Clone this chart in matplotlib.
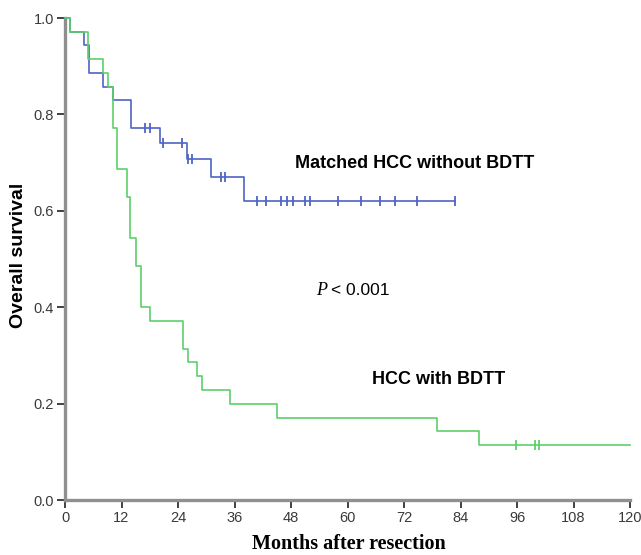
import numpy as np
import matplotlib
matplotlib.use("Agg")
import matplotlib.pyplot as plt

plt.rcParams['font.family'] = ['Liberation Sans', 'DejaVu Sans']

# Matched HCC without BDTT (Kaplan-Meier steps)
blue_t = [0, 1.1, 4.0, 5.0, 8.0, 10.2, 14.0, 20.1, 25.9, 31.0, 38.1]
blue_s = [1.0, 0.971, 0.943, 0.886, 0.857, 0.829, 0.771, 0.741, 0.707, 0.670, 0.621]
blue_end = 82.9
blue_cens = [17.0, 18.0, 20.9, 24.8, 26.2, 26.9, 33.1, 34.0, 40.7, 42.6, 45.9, 47.2,
             48.5, 50.9, 52.0, 57.9, 62.8, 66.9, 70.1, 74.8, 82.8]

# HCC with BDTT
green_t = [0, 1.1, 4.8, 8.0, 9.1, 10.2, 11.0, 13.1, 13.9, 15.0, 16.1, 18.05, 25.0,
           26.1, 28.1, 29.0, 35.0, 45.0, 79.0, 88.0]
green_s = [1.0, 0.971, 0.914, 0.886, 0.857, 0.771, 0.686, 0.629, 0.543, 0.486, 0.4,
           0.371, 0.314, 0.286, 0.257, 0.229, 0.2, 0.171, 0.143, 0.114]
green_end = 120
green_cens = [95.8, 99.9, 100.6]

xticks = [0, 12, 24, 36, 48, 60, 72, 84, 96, 108, 120]
yticks = [0.0, 0.2, 0.4, 0.6, 0.8, 1.0]

blue_col = '#5064c4'
green_col = '#5ccf6a'


def km(ax, t, s, end, cens, col):
    tt = list(t) + [end]
    ss = list(s) + [s[-1]]
    ax.step(tt, ss, where='post', color=col, lw=1.2, clip_on=False, zorder=3)
    idx = np.searchsorted(t, cens, side='right') - 1
    cy = np.array(s)[idx]
    ax.plot(cens, cy, ls='none', marker='|', ms=6.5, mew=1.3, color=col,
            clip_on=False, zorder=4)


fig = plt.figure(figsize=(6.41, 5.55), dpi=100)
ax = fig.add_axes([65 / 641, 55 / 555, 565 / 641, 482 / 555])

km(ax, blue_t, blue_s, blue_end, blue_cens, blue_col)
km(ax, green_t, green_s, green_end, green_cens, green_col)

ax.set_xlim(0, 120)
ax.set_ylim(0, 1.0)
ax.set_xticks(xticks)
ax.set_xticklabels([str(x) for x in xticks])
ax.set_yticks(yticks)
ax.set_yticklabels(['%.1f' % y for y in yticks])

for side in ['top', 'right']:
    ax.spines[side].set_visible(False)
for side in ['left', 'bottom']:
    ax.spines[side].set_color('#8f8f8f')
    ax.spines[side].set_linewidth(2.4)
ax.tick_params(axis='both', direction='out', length=6, width=1.3, color='#333333',
               labelsize=10.5, labelcolor='#3a3a3a', pad=2)

ax.text(48.85, 0.699, 'Matched HCC without BDTT', fontsize=13, fontweight='bold',
        ha='left', va='center')
ax.text(65.1, 0.249, 'HCC with BDTT', fontsize=13, fontweight='bold',
        ha='left', va='center')
ax.text(53.3, 0.434, 'P', fontsize=13, style='italic', family='Liberation Serif',
        ha='left', va='center')
ax.text(56.4, 0.434, '< 0.001', fontsize=12.5, ha='left', va='center')

ax.text(0.502, -0.092, 'Months after resection', transform=ax.transAxes,
        fontsize=14.5, fontweight='bold', family='Liberation Serif',
        ha='center', va='center')
ax.text(-0.083, 0.508, 'Overall survival', transform=ax.transAxes, rotation=90,
        fontsize=14, fontweight='bold', ha='center', va='center')

fig.savefig('out.png', dpi=100)
